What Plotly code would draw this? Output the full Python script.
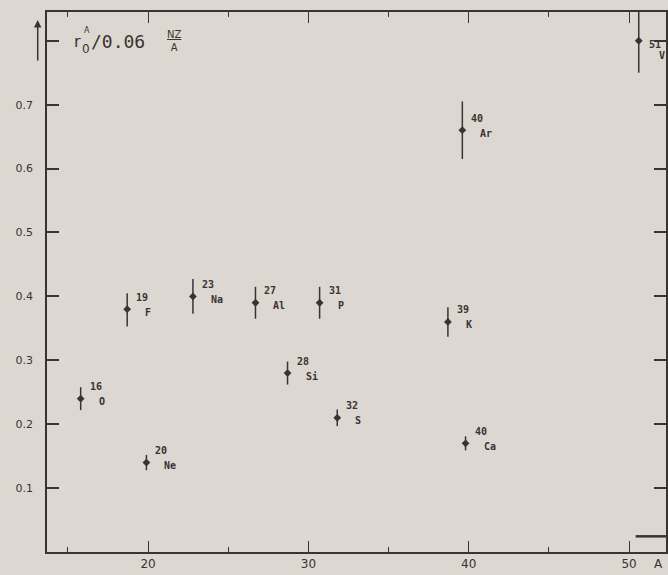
import plotly.graph_objects as go

# ---- data ----
mass_numbers = ["16", "19", "20", "23", "27", "28", "31", "32", "39", "40", "40", "51"]
symbols      = ["O", "F", "Ne", "Na", "Al", "Si", "P", "S", "K", "Ar", "Ca", "V"]
a_values     = [15.8, 18.7, 19.9, 22.8, 26.7, 28.7, 30.7, 31.8, 38.7, 39.6, 39.8, 50.6]
ratio_values = [0.24, 0.38, 0.14, 0.40, 0.39, 0.28, 0.39, 0.21, 0.36, 0.66, 0.17, 0.80]
err_plus     = [0.018, 0.025, 0.012, 0.027, 0.025, 0.018, 0.025, 0.013, 0.023, 0.045, 0.011, 0.05]
err_minus    = [0.018, 0.027, 0.012, 0.027, 0.025, 0.018, 0.025, 0.013, 0.023, 0.045, 0.011, 0.05]

y_tickvals = [0.1, 0.2, 0.3, 0.4, 0.5, 0.6, 0.7, 0.8]
y_ticktext = ["0.1", "0.2", "0.3", "0.4", "0.5", "0.6", "0.7", ""]
x_tickvals = [20, 30, 40, 50]
x_ticktext = ["20", "30", "40", "50"]

INK = "#3b3232"
BG = "#dcd8d1"

fig = go.Figure()
fig.add_trace(go.Scatter(
    x=a_values, y=ratio_values, mode="markers",
    marker=dict(symbol="diamond", size=6, color=INK),
    error_y=dict(type="data", array=err_plus, arrayminus=err_minus,
                 symmetric=False, width=0, thickness=1.5, color=INK),
    showlegend=False, cliponaxis=False,
))

# isotope labels: mass number up-right, symbol right
label_font = dict(family="DejaVu Sans Mono", size=10, color=INK)
for i, (m, s) in enumerate(zip(mass_numbers, symbols)):
    if s == "V":
        mdx, mdy, sdx, sdy = 8, -4, 18, -15
    else:
        mdx, mdy, sdx, sdy = 7, 12, 16, -3
    fig.add_annotation(x=a_values[i], y=ratio_values[i], text="<b>" + m + "</b>",
                       showarrow=False, xanchor="left", yanchor="middle",
                       xshift=mdx, yshift=mdy, font=label_font)
    fig.add_annotation(x=a_values[i], y=ratio_values[i], text="<b>" + s + "</b>",
                       showarrow=False, xanchor="left", yanchor="middle",
                       xshift=sdx, yshift=sdy, font=label_font)

# y-axis title (top-left)
fig.add_annotation(x=0.04, y=0.945, xref="paper", yref="paper", text="r",
                   showarrow=False, xanchor="left", yanchor="middle",
                   font=dict(family="DejaVu Sans", size=16, color=INK))
fig.add_annotation(x=0.056, y=0.966, xref="paper", yref="paper", text="A",
                   showarrow=False, xanchor="left", yanchor="middle",
                   font=dict(family="DejaVu Sans", size=8, color=INK))
fig.add_annotation(x=0.054, y=0.932, xref="paper", yref="paper", text="0",
                   showarrow=False, xanchor="left", yanchor="middle",
                   font=dict(family="DejaVu Sans", size=12, color=INK))
fig.add_annotation(x=0.068, y=0.945, xref="paper", yref="paper", text="/0.06",
                   showarrow=False, xanchor="left", yanchor="middle",
                   font=dict(family="DejaVu Sans Mono", size=18, color=INK))
fig.add_annotation(x=0.205, y=0.947, xref="paper", yref="paper",
                   text="<u>NZ</u><br>A",
                   showarrow=False, xanchor="center", yanchor="middle",
                   font=dict(family="DejaVu Sans", size=10, color=INK))
# up arrow left of the axis
fig.add_annotation(x=-0.015, y=0.985, xref="paper", yref="paper",
                   ax=0, ay=42, axref="pixel", ayref="pixel",
                   text="", showarrow=True, arrowhead=2, arrowsize=1,
                   arrowwidth=1.5, arrowcolor=INK)
# x-axis title
fig.add_annotation(x=0.988, y=-0.022, xref="paper", yref="paper", text="A",
                   showarrow=False, xanchor="center", yanchor="middle",
                   font=dict(family="DejaVu Sans", size=12, color=INK))
# short heavy stroke near lower right
fig.add_shape(type="line", xref="paper", yref="paper",
              x0=0.951, x1=1.0, y0=0.029, y1=0.029,
              line=dict(color=INK, width=2.5))

fig.update_xaxes(
    range=[13.7, 52.3], tickvals=x_tickvals, ticktext=x_ticktext,
    ticks="inside", ticklen=11, tickwidth=1.2, tickcolor=INK,
    minor=dict(tickvals=[15, 25, 35, 45], ticks="inside", ticklen=5,
               tickwidth=1.2, tickcolor=INK),
    showline=True, linecolor=INK, linewidth=2, mirror="ticks",
    showgrid=False, zeroline=False,
    tickfont=dict(family="DejaVu Sans", size=12, color=INK),
)
fig.update_yaxes(
    range=[0.0, 0.845], tickvals=y_tickvals, ticktext=y_ticktext,
    ticks="inside", ticklen=12, tickwidth=2, tickcolor=INK,
    showline=True, linecolor=INK, linewidth=1.5, mirror="ticks",
    showgrid=False, zeroline=False, ticklabelstandoff=10,
    tickfont=dict(family="DejaVu Sans", size=11, color=INK),
)
fig.update_layout(
    width=668, height=575,
    margin=dict(l=47, r=0, t=12, b=23),
    paper_bgcolor=BG, plot_bgcolor=BG,
)
fig.write_html("out.html",
               config={"displayModeBar": False},
               post_script="document.body.style.margin='0';"
                           "document.body.style.overflow='hidden';"
                           "document.body.style.background='" + BG + "';")
